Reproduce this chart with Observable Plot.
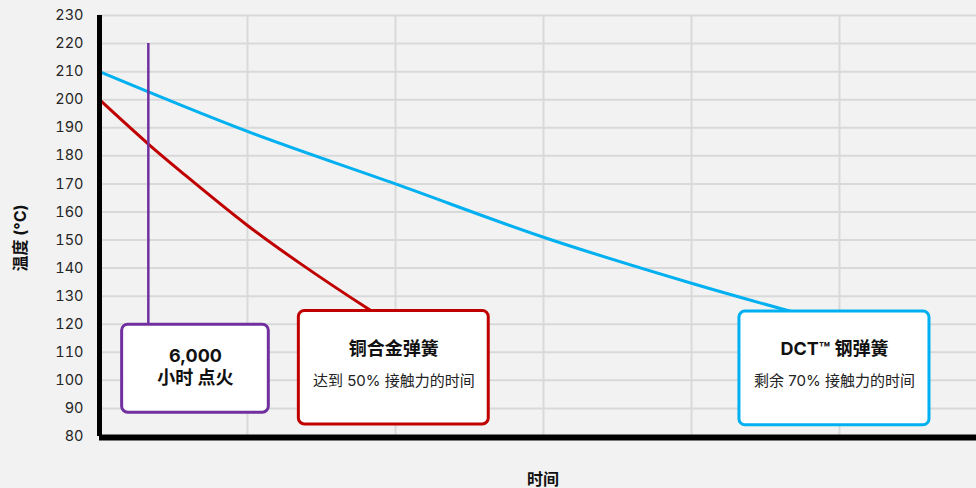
<!DOCTYPE html>
<html>
<head>
<meta charset="utf-8">
<script src="https://cdn.jsdelivr.net/npm/d3@7"></script>
<script src="https://cdn.jsdelivr.net/npm/@observablehq/plot@0.6"></script>
<style>
  html, body { margin: 0; padding: 0; background: #F2F2F2; }
  #chart svg { display: block; }
</style>
</head>
<body>
<div id="chart"></div>
<script>
// Y ticks (temperature °C)
const yTicks = [80, 90, 100, 110, 120, 130, 140, 150, 160, 170, 180, 190, 200, 210, 220, 230];
// vertical grid positions (time, no labels)
const xGrid = [1, 2, 3, 4, 5];

// DCT steel spring: time vs temperature
const dctTime = [0, 1, 2, 3, 4, 4.65, 5.0];
const dctTemp = [210, 188.7, 170, 151, 134.6, 124.9, 120];

// Copper alloy spring
const cuTime = [0, 0.33, 0.55, 1, 1.36, 1.82, 2.1];
const cuTemp = [200, 184.2, 174.4, 155.2, 141.5, 125.3, 116];

// 6,000 h ignition marker
const ignitionTime = 0.33;
const ignitionTemp = [220, 119.8];

// annotation boxes (time / temperature extents)
const boxNames = ["ignition", "copper", "dct"];
const boxT1 = [0.153, 1.347, 4.324];
const boxT2 = [1.144, 2.630, 5.608];
const boxTop = [119.8, 124.7, 124.5];
const boxBottom = [88.5, 84.3, 84.0];
const boxTitle1 = ["6,000", "铜合金弹簧", "DCT™ 钢弹簧"];
const boxTitle2 = ["小时 点火", null, null];
const boxSub = [null, "达到 50% 接触力的时间", "剩余 70% 接触力的时间"];

const colors = { ignition: "#7030A0", copper: "#C00000", dct: "#00B0F0" };

const dct = dctTime.map((t, i) => ({ t, v: dctTemp[i] }));
const cu = cuTime.map((t, i) => ({ t, v: cuTemp[i] }));
const boxes = boxNames.map((name, i) => ({
  name, t1: boxT1[i], t2: boxT2[i], top: boxTop[i], bottom: boxBottom[i],
  tm: (boxT1[i] + boxT2[i]) / 2,
  title1: boxTitle1[i], title2: boxTitle2[i], sub: boxSub[i]
}));

const W = 976, H = 488;
const xMax = (W - 99) / 148;
const font = "Inter, 'Noto Sans CJK SC', sans-serif";

const chart = Plot.plot({
  width: W,
  height: H,
  marginLeft: 99,
  marginRight: 0,
  marginTop: 15,
  marginBottom: 52,
  style: { background: "#F2F2F2", fontFamily: font, overflow: "visible" },
  x: { domain: [0, xMax], axis: null },
  y: { domain: [80, 230], axis: null },
  marks: [
    Plot.gridY(yTicks, { stroke: "#D9D9D9", strokeOpacity: 1, strokeWidth: 2 }),
    Plot.gridX(xGrid, { stroke: "#D9D9D9", strokeOpacity: 1, strokeWidth: 2 }),
    Plot.axisY(yTicks, { tickSize: 0, tickPadding: 16, fontSize: 14.5, fill: "#262626", label: null, fontFamily: font }),
    Plot.line(dct, { x: "t", y: "v", stroke: colors.dct, strokeWidth: 3, curve: "catmull-rom" }),
    Plot.line(cu, { x: "t", y: "v", stroke: colors.copper, strokeWidth: 3, curve: "catmull-rom" }),
    Plot.ruleX([ignitionTime], { y1: ignitionTemp[0], y2: ignitionTemp[1], stroke: colors.ignition, strokeWidth: 2.5 }),
    Plot.rect(boxes, {
      x1: "t1", x2: "t2", y1: "bottom", y2: "top",
      fill: "white", stroke: d => colors[d.name], strokeWidth: 3, rx: 6
    }),
    Plot.text(boxes.filter(d => d.title2), {
      x: "tm", y: "top", text: "title1", dy: 31, fontSize: 18, fontWeight: "bold", fill: "#111", fontFamily: font
    }),
    Plot.text(boxes.filter(d => d.title2), {
      x: "tm", y: "top", text: "title2", dy: 53.5, fontSize: 18, fontWeight: "bold", fill: "#111", fontFamily: font
    }),
    Plot.text(boxes.filter(d => d.sub), {
      x: "tm", y: "top", text: "title1", dy: 38, fontSize: 18, fontWeight: "bold", fill: "#111", fontFamily: font
    }),
    Plot.text(boxes.filter(d => d.sub), {
      x: "tm", y: "top", text: "sub", dy: 70, fontSize: 15, fill: "#222", fontFamily: font
    }),
    Plot.ruleY([80], { x1: 0, x2: xMax, stroke: "black", strokeWidth: 6, dy: 1 }),
    Plot.ruleX([0], { y1: 80, y2: 230, stroke: "black", strokeWidth: 5 }),
    Plot.text(["时间"], { frameAnchor: "bottom", textAnchor: "middle", lineAnchor: "middle", dy: 43, dx: 5, fontSize: 16, fontWeight: "bold", fill: "#111", fontFamily: font }),
    Plot.text(["温度 (°C)"], { frameAnchor: "left", textAnchor: "middle", lineAnchor: "middle", rotate: -90, dx: -79, dy: 12, fontSize: 16, fontWeight: "bold", fill: "#111", fontFamily: font })
  ]
});

document.getElementById("chart").appendChild(chart);
</script>
</body>
</html>
